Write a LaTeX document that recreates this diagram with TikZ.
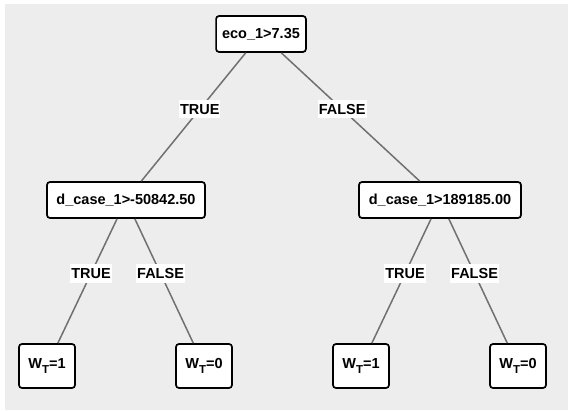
\documentclass[tikz,border=0pt]{standalone}
\usepackage{fontspec}
\setmainfont{Liberation Sans}
\usepackage{xcolor}
\usetikzlibrary{positioning}

\definecolor{bggray}{HTML}{EDEDED}
\definecolor{edgegray}{HTML}{707070}

\tikzset{
    split/.style={draw=black, line width=1.7pt, fill=white, rounded corners=3pt,
        minimum height=36pt, inner xsep=6pt, font=\fontsize{14.5}{16}\selectfont\bfseries},
    leaf/.style={split, minimum width=56pt, minimum height=44pt},
    branch/.style={draw=edgegray, line width=1.5pt},
    answer/.style={fill=white, inner xsep=1pt, inner ysep=4pt, pos=0.44,
        font=\fontsize{14.5}{16}\selectfont\bfseries}
}
\newcommand{\wt}[1]{W\raisebox{-5pt}{\fontsize{11.5}{12}\selectfont T}=#1}

\begin{document}
\begin{tikzpicture}[x=1pt, y=1pt]
    % Background
    \useasboundingbox (0,0) rectangle (568,410);
    \fill[white] (0,0) rectangle (568,410);
    \fill[bggray] (5,0) rectangle (568,406);

    % Nodes
    \node[split, minimum width=88pt] (root) at (261,376) {eco\_1>7.35};
    \node[split, minimum width=158pt] (left) at (126,210) {d\_case\_1>-50842.50};
    \node[split, minimum width=162pt] (right) at (440,210) {d\_case\_1>189185.00};

    \node[leaf] (ll) at (47,44) {\wt{1}};
    \node[leaf] (lr) at (204,44) {\wt{0}};
    \node[leaf] (rl) at (361,44) {\wt{1}};
    \node[leaf] (rr) at (518,44) {\wt{0}};

    % Branches
    \draw[branch] (root) -- node[answer] {TRUE} (left);
    \draw[branch] (root) -- node[answer] {FALSE} (right);
    \draw[branch] (left) -- node[answer] {TRUE} (ll);
    \draw[branch] (left) -- node[answer] {FALSE} (lr);
    \draw[branch] (right) -- node[answer] {TRUE} (rl);
    \draw[branch] (right) -- node[answer] {FALSE} (rr);
\end{tikzpicture}
\end{document}
